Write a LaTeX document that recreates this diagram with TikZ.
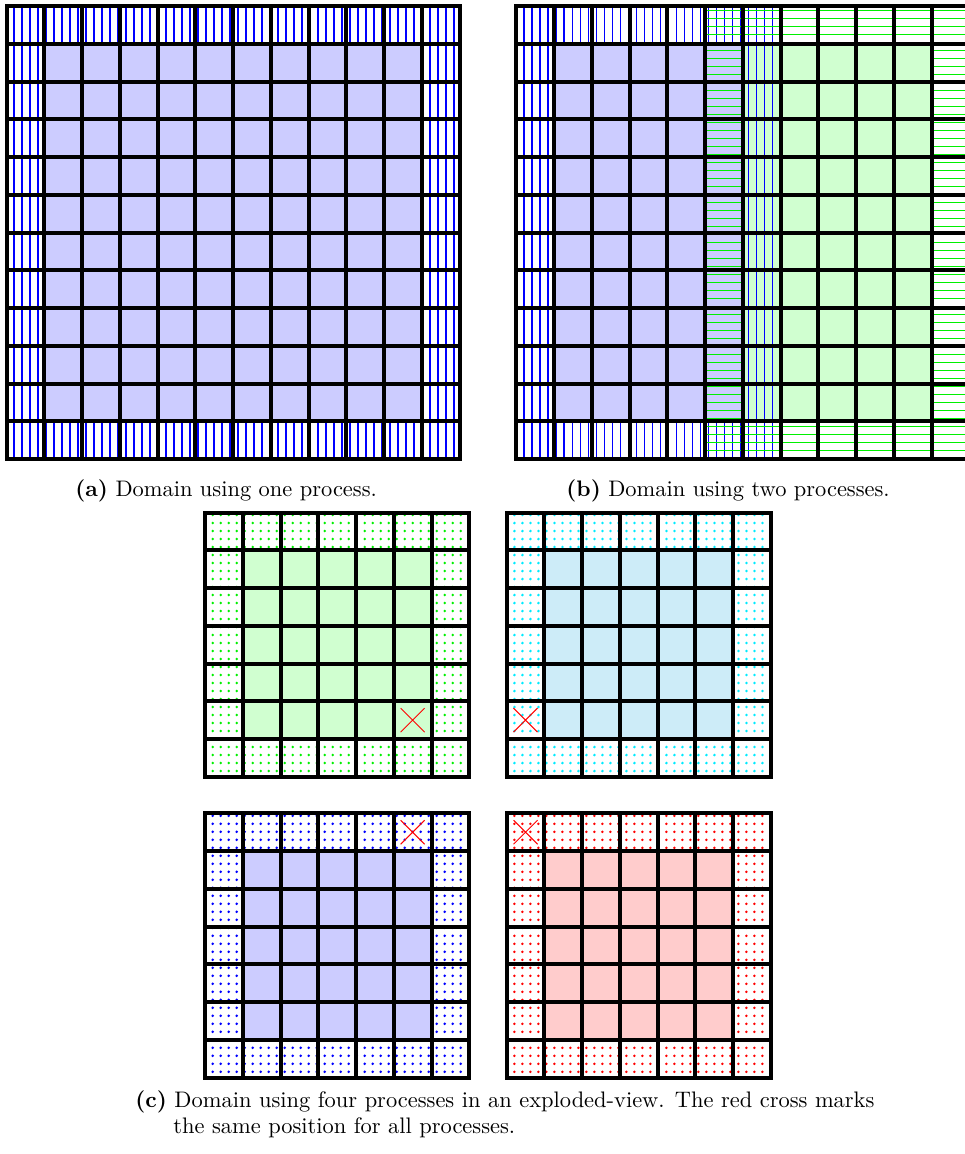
\documentclass[tikz,border=0pt]{standalone}
\definecolor{blueint}{RGB}{204,204,255}
\definecolor{greenint}{RGB}{208,255,208}
\definecolor{cyanint}{RGB}{205,236,248}
\definecolor{redint}{RGB}{255,204,204}
\definecolor{hblue}{RGB}{0,0,255}
\definecolor{hgreen}{RGB}{0,240,0}
\definecolor{hcyan}{RGB}{0,235,255}
\definecolor{hred}{RGB}{255,0,0}
\def\cel{37.75}
\tikzset{
  gridline/.style={line width=1.95pt, black},
  hatchv/.style={line width=0.6pt, hblue},
  hatchh/.style={line width=0.65pt, hgreen},
  crossline/.style={line width=0.5pt, hred},
  captxt/.style={inner sep=0pt, font=\fontsize{10.95}{13.6}\selectfont},
}
\newcommand\mygrid[3]{%
  \pgfmathtruncatemacro\mgn{#3-1}%
  \foreach \k in {1,...,\mgn}{%
    \draw[gridline] ({#1+\k*\cel},#2) -- ({#1+\k*\cel},{#2+#3*\cel});
    \draw[gridline] (#1,{#2+\k*\cel}) -- ({#1+#3*\cel},{#2+\k*\cel});
  }%
  \draw[gridline] (#1,#2) rectangle ({#1+#3*\cel},{#2+#3*\cel});
}
% #1 x, #2 y, #3 interior colour, #4 dot colour, #5 cross col, #6 cross row
\newcommand\dotgrid[6]{%
  \fill[#3] ({#1+\cel},{#2+\cel}) rectangle ({#1+6*\cel},{#2+6*\cel});
  \begin{scope}[even odd rule]
    \clip (#1,#2) rectangle ({#1+7*\cel},{#2+7*\cel})
          ({#1+\cel},{#2+\cel}) rectangle ({#1+6*\cel},{#2+6*\cel});
    \fill[#4] \foreach \i in {0,...,33}{\foreach \j in {0,...,33}{
        ({#1+7.7+8*\i},{#2+2.5+8*\j}) circle (1.4)}};
  \end{scope}
  \mygrid{#1}{#2}{7}
  \draw[crossline] ({#1+(#5+0.5)*\cel-12},{#2+(#6+0.5)*\cel-12}) -- ++(24,24)
                   ({#1+(#5+0.5)*\cel-12},{#2+(#6+0.5)*\cel+12}) -- ++(24,-24);
}
\begin{document}
\begin{tikzpicture}[x=0.4878pt, y=-0.4878pt]
\useasboundingbox (0,0) rectangle (965,1154);
\fill[white] (0,0) rectangle (965,1154);

% ---------- panel (a)
\def\ax{6.7}\def\ay{6.2}
\fill[blueint] ({\ax+\cel},{\ay+\cel}) rectangle ({\ax+11*\cel},{\ay+11*\cel});
\begin{scope}[even odd rule]
  \clip (\ax,\ay) rectangle ({\ax+12*\cel},{\ay+12*\cel})
        ({\ax+\cel},{\ay+\cel}) rectangle ({\ax+11*\cel},{\ay+11*\cel});
  \foreach \k in {0,...,57}{\draw[hatchv] ({14+8*\k},\ay) -- ({14+8*\k},{\ay+12*\cel});}
\end{scope}
\mygrid{\ax}{\ay}{12}

% ---------- panel (b)
\def\bx{516.3}\def\by{6.2}
\fill[blueint] ({\bx+\cel},{\by+\cel}) rectangle ({\bx+6*\cel},{\by+11*\cel});
\fill[greenint] ({\bx+6*\cel},{\by+\cel}) rectangle ({\bx+11*\cel},{\by+11*\cel});
\begin{scope}[even odd rule]
  \clip (\bx,\by) rectangle ({\bx+7*\cel},{\by+12*\cel})
        ({\bx+\cel},{\by+\cel}) rectangle ({\bx+6*\cel},{\by+11*\cel});
  \foreach \k in {0,...,33}{\draw[hatchv] ({524+8.02*\k},\by) -- ({524+8.02*\k},{\by+12*\cel});}
\end{scope}
\begin{scope}[even odd rule]
  \clip ({\bx+5*\cel},\by) rectangle ({\bx+12*\cel},{\by+12*\cel})
        ({\bx+6*\cel},{\by+\cel}) rectangle ({\bx+11*\cel},{\by+11*\cel});
  \foreach \k in {0,...,57}{\draw[hatchh] ({\bx+5*\cel},{10.5+8*\k}) -- ({\bx+12*\cel},{10.5+8*\k});}
\end{scope}
\mygrid{\bx}{\by}{12}

% ---------- panel (c)
\dotgrid{205}{512.5}{greenint}{hgreen}{5}{5}
\dotgrid{506.7}{512.5}{cyanint}{hcyan}{0}{5}
\dotgrid{205}{813.3}{blueint}{hblue}{5}{0}
\dotgrid{506.7}{813.3}{redint}{hred}{0}{0}

% ---------- captions
\node[captxt, anchor=base west] (capa) at (75,496) {\textbf{(a)} Domain using one process.};
\node[captxt, anchor=base west] (capb) at (566,496) {\textbf{(b)} Domain using two processes.};
\node[captxt, anchor=base west] (capc1) at (135,1107)
  {\makebox[360.5pt][s]{\textbf{(c)} Domain using four processes in an exploded-view. The red cross marks}};
\node[captxt, anchor=base west] (capc2) at (173,1133) {the same position for all processes.};
\end{tikzpicture}
\end{document}
